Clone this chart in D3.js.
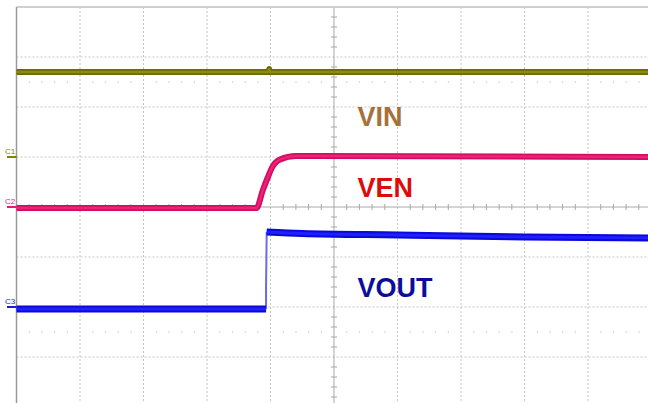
<!DOCTYPE html>
<html>
<head>
<meta charset="utf-8">
<script src="https://cdn.jsdelivr.net/npm/d3@7"></script>
<style>
  html, body { margin: 0; padding: 0; background: #fff; }
  svg { display: block; }
</style>
</head>
<body>
<div id="chart"></div>
<script>
// scope screen, 10 x 8 divisions, values in divisions
const xDivs = d3.range(-5, 6);
const yDivs = d3.range(-4, 5);

// traces as [time div, level div]
const vin = [[-5, 2.7], [-1.03, 2.7], [-1.02, 2.76], [-1.01, 2.7], [5, 2.7]];
const ven = [[-5, -0.02], [-1.22, -0.02], [-1.12, 0.34], [-1.04, 0.6], [-0.98, 0.78],
             [-0.85, 0.95], [-0.6, 1.02], [-0.3, 1.02], [5, 1.0]];
const voutLow = [[-5, -2.04], [-1.07, -2.04]];
const voutEdge = [[-1.07, -2.04], [-1.07, -1.6], [-1.06, -0.5]];
const voutHigh = [[-1.06, -0.5], [-0.5, -0.53], [1.0, -0.56], [3.0, -0.6], [5, -0.62]];

const labels = [
  { text: "VIN", t: 0.37, v: 1.62, color: "#a6713a" },
  { text: "VEN", t: 0.37, v: 0.2, color: "#dd0c0c" },
  { text: "VOUT", t: 0.37, v: -1.8, color: "#0d0d9c" }
];
const markers = [
  { name: "C1", v: 1.0, color: "#80800a" },
  { name: "C2", v: 0.0, color: "#e8197a" },
  { name: "C3", v: -2.0, color: "#1a1ae6" }
];

const W = 648, H = 403;
const x = d3.scaleLinear().domain([-5, 5]).range([16.5, 651.5]);
const y = d3.scaleLinear().domain([-4, 4]).range([407, 7]);

const svg = d3.select("#chart").append("svg")
  .attr("width", W).attr("height", H);

const grid = svg.append("g");

// dotted graticule
grid.selectAll(".vg").data(xDivs.filter(d => d !== 0 && d !== -5))
  .join("line")
  .attr("x1", d => x(d)).attr("x2", d => x(d))
  .attr("y1", y(4)).attr("y2", H)
  .attr("stroke", "#c4c4c4").attr("stroke-dasharray", "2,2");

grid.selectAll(".hg").data(yDivs.filter(d => d !== 0 && d !== 4))
  .join("line")
  .attr("x1", x(-5)).attr("x2", W)
  .attr("y1", d => y(d)).attr("y2", d => y(d))
  .attr("stroke", "#c4c4c4").attr("stroke-dasharray", "2,2");

// minor marks at +-2.5 div
const minorX = d3.range(-25, 26).map(d => d / 5).filter(d => Math.abs(d % 1) > 0.01);
[2.5, -2.5].forEach(v => {
  grid.selectAll(null).data(minorX).join("rect")
    .attr("x", d => x(d) - 0.5).attr("y", y(v) - 0.5)
    .attr("width", 1.2).attr("height", 1.2).attr("fill", "#c0c0c0");
});

// centre axes with ticks
grid.append("line").attr("x1", x(-5)).attr("x2", W)
  .attr("y1", y(0)).attr("y2", y(0)).attr("stroke", "#a8a8a8");
grid.append("line").attr("x1", x(0)).attr("x2", x(0))
  .attr("y1", y(4)).attr("y2", H).attr("stroke", "#a8a8a8");
const minorY = d3.range(-20, 21).map(d => d / 5).filter(d => Math.abs(d % 1) > 0.01);
grid.selectAll(null).data(minorX).join("line")
  .attr("x1", d => x(d)).attr("x2", d => x(d))
  .attr("y1", y(0) - 3).attr("y2", y(0) + 3).attr("stroke", "#a8a8a8");
grid.selectAll(null).data(minorY).join("line")
  .attr("x1", x(0) - 3).attr("x2", x(0) + 3)
  .attr("y1", d => y(d)).attr("y2", d => y(d)).attr("stroke", "#a8a8a8");

// frame
grid.append("line").attr("x1", x(-5)).attr("x2", W)
  .attr("y1", y(4)).attr("y2", y(4)).attr("stroke", "#cfcfcf").attr("stroke-width", 2);
grid.append("line").attr("x1", x(-5)).attr("x2", x(-5))
  .attr("y1", y(4)).attr("y2", H).attr("stroke", "#9a9a9a").attr("stroke-width", 1.5);

// traces
const line = d3.line().x(d => x(d[0])).y(d => y(d[1])).curve(d3.curveMonotoneX);
const straight = d3.line().x(d => x(d[0])).y(d => y(d[1]));

function trace(data, dark, light, w) {
  svg.append("path").attr("d", line(data)).attr("fill", "none")
    .attr("stroke", dark).attr("stroke-width", w);
  svg.append("path").attr("d", line(data)).attr("fill", "none")
    .attr("stroke", light).attr("stroke-width", w * 0.4);
}

trace(vin, "#6e6a00", "#8c8a10", 6);
trace(ven, "#d0105f", "#f0207e", 6);
svg.append("path").attr("d", straight(voutEdge)).attr("fill", "none")
  .attr("stroke", "#6a6af0").attr("stroke-width", 2);
trace(voutLow, "#0a0ad8", "#2020ff", 7);
trace(voutHigh, "#0a0ad8", "#2020ff", 7);

// channel markers
const mk = svg.append("g").selectAll("g").data(markers).join("g");
mk.append("line")
  .attr("x1", 7).attr("x2", x(-5))
  .attr("y1", d => y(d.v)).attr("y2", d => y(d.v))
  .attr("stroke", d => d.color).attr("stroke-width", 2);
mk.append("text")
  .attr("x", 5).attr("y", d => y(d.v) - 3)
  .attr("font-family", "Liberation Sans, Arial, sans-serif")
  .attr("font-size", 8)
  .attr("fill", d => d.color)
  .text(d => d.name);

// labels
svg.append("g").selectAll("text").data(labels).join("text")
  .attr("x", d => x(d.t)).attr("y", d => y(d.v))
  .attr("font-family", "Liberation Sans, Arial, sans-serif")
  .attr("font-weight", "bold")
  .attr("font-size", 27)
  .attr("fill", d => d.color)
  .text(d => d.text);
</script>
</body>
</html>
